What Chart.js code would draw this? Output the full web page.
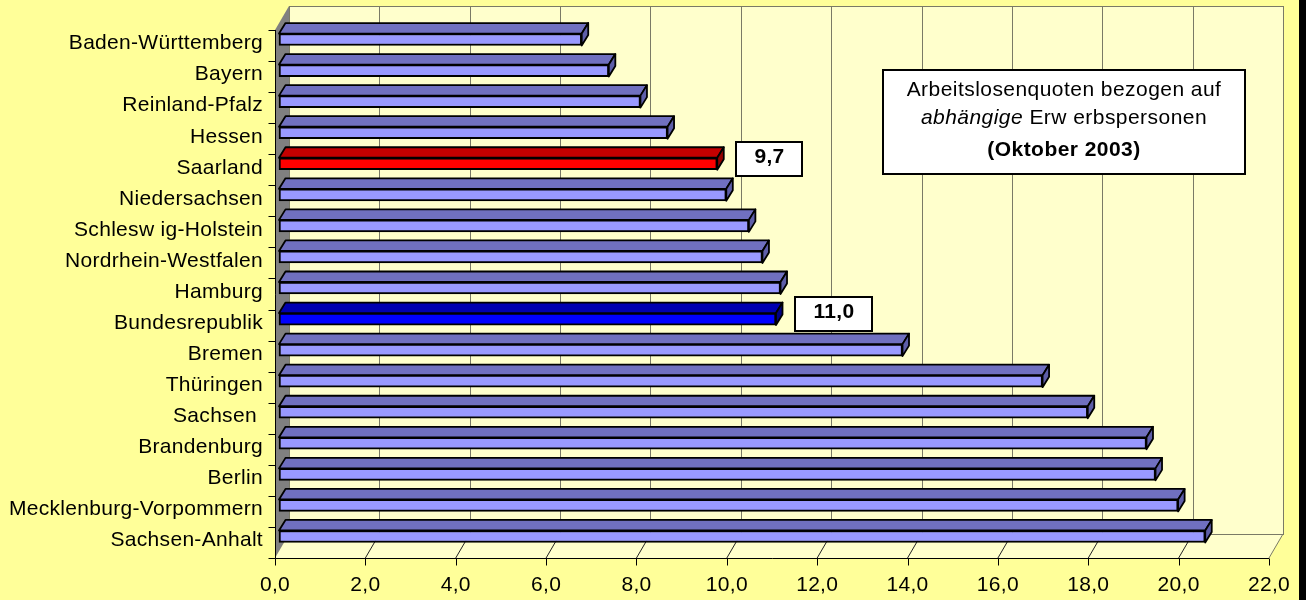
<!DOCTYPE html>
<html>
<head>
<meta charset="utf-8">
<title>Arbeitslosenquoten Oktober 2003</title>
<script src="https://cdn.jsdelivr.net/npm/chart.js@4.4.0/dist/chart.umd.min.js"></script>
<style>
  html, body { margin: 0; padding: 0; background: #FFFF99; overflow: hidden; }
  #wrap { position: relative; width: 1306px; height: 600px; }
</style>
</head>
<body>
<div id="wrap"><canvas id="chart" width="1306" height="600"></canvas></div>
<script>
// Bundesländer, top to bottom
const categories = [
  'Baden-Württemberg', 'Bayern', 'Reinland-Pfalz', 'Hessen', 'Saarland',
  'Niedersachsen', 'Schlesw ig-Holstein', 'Nordrhein-Westfalen', 'Hamburg',
  'Bundesrepublik', 'Bremen', 'Thüringen', 'Sachsen ', 'Brandenburg',
  'Berlin', 'Mecklenburg-Vorpommern', 'Sachsen-Anhalt'
];
// Arbeitslosenquote in %
const quoten = [6.7, 7.3, 8.0, 8.6, 9.7, 9.9, 10.4, 10.7, 11.1, 11.0, 13.8, 16.9, 17.9, 19.2, 19.4, 19.9, 20.5];
// bars that get a value box
const labelledBars = ['Saarland', 'Bundesrepublik'];
// x-axis ticks
const xTickValues = [0, 2, 4, 6, 8, 10, 12, 14, 16, 18, 20, 22];
// info box text
const titleLine1 = 'Arbeitslosenquoten bezogen auf';
const titleLine2Italic = 'abhängige';
const titleLine2Rest = ' Erw erbspersonen';
const titleLine3 = '(Oktober 2003)';

const FONT = '"Liberation Sans", Arial, sans-serif';
const SPACING = '0.3px';
const FONT_SIZE = 21;

const faceColours = {
  normal:         { front: '#9999FF', top: '#7070C0', side: '#5E5EA8' },
  Saarland:       { front: '#FF0000', top: '#C40000', side: '#960000' },
  Bundesrepublik: { front: '#0000FF', top: '#0000B0', side: '#000084' }
};
const coloursFor = name => faceColours[name] || faceColours.normal;

// 3D geometry (pixels)
const WALL = { dx: 14, dy: -24 };      // depth of the plot box
const BAR_SHIFT = { dx: 4, dy: -6 };   // front face of bars sits a bit into the box
const BAR_DEPTH = { dx: 6.5, dy: -10.5 };

const fmt = v => v.toFixed(1).replace('.', ',');

function poly(ctx, pts) {
  ctx.beginPath();
  ctx.moveTo(pts[0][0], pts[0][1]);
  for (let i = 1; i < pts.length; i++) ctx.lineTo(pts[i][0], pts[i][1]);
  ctx.closePath();
}

const scene3d = {
  id: 'scene3d',
  beforeUpdate(chart) { chart.ctx.letterSpacing = SPACING; },
  beforeDraw(chart) {
    const { ctx, chartArea: a, scales: { x } } = chart;
    ctx.letterSpacing = SPACING;
    ctx.save();
    ctx.fillStyle = '#FFFF99';
    ctx.fillRect(0, 0, chart.width, chart.height);
    ctx.fillStyle = '#000000';
    ctx.fillRect(1299, 0, chart.width - 1299, chart.height);

    const bl = a.left + WALL.dx, br = a.right + WALL.dx;
    const bt = a.top + WALL.dy, bb = a.bottom + WALL.dy;

    // back wall
    ctx.fillStyle = '#FFFFCC';
    ctx.fillRect(bl, bt, br - bl, bb - bt);
    // floor
    poly(ctx, [[a.left, a.bottom], [bl, bb], [br, bb], [a.right, a.bottom]]);
    ctx.fill();

    // vertical gridlines on the back wall
    ctx.strokeStyle = '#7A7A66';
    ctx.lineWidth = 1;
    xTickValues.forEach(v => {
      const px = Math.round(x.getPixelForValue(v) + WALL.dx) + 0.5;
      ctx.beginPath(); ctx.moveTo(px, bt); ctx.lineTo(px, bb); ctx.stroke();
    });
    ctx.strokeRect(Math.round(bl) + 0.5, Math.round(bt) + 0.5, br - bl, bb - bt);
    // right edge of floor
    ctx.beginPath(); ctx.moveTo(a.right, a.bottom); ctx.lineTo(br, bb); ctx.stroke();

    // floor grid diagonals
    ctx.strokeStyle = '#222222';
    xTickValues.slice(1, -1).forEach(v => {
      const px = x.getPixelForValue(v);
      ctx.beginPath(); ctx.moveTo(px, a.bottom); ctx.lineTo(px + WALL.dx, a.bottom + WALL.dy); ctx.stroke();
    });

    // left side wall
    ctx.fillStyle = '#808080';
    poly(ctx, [[a.left, a.top], [bl, bt], [bl, bb], [a.left, a.bottom]]);
    ctx.fill();

    // front axes
    ctx.strokeStyle = '#000000';
    ctx.lineWidth = 1;
    const ax = Math.round(a.left) + 0.5, ay = Math.round(a.bottom) + 0.5;
    ctx.beginPath();
    ctx.moveTo(ax, a.top); ctx.lineTo(ax, ay); ctx.lineTo(a.right, ay);
    ctx.stroke();
    xTickValues.forEach(v => {
      const px = Math.round(x.getPixelForValue(v)) + 0.5;
      ctx.beginPath(); ctx.moveTo(px, ay); ctx.lineTo(px, ay + 7); ctx.stroke();
    });
    const band = (a.bottom - a.top) / categories.length;
    for (let k = 0; k <= categories.length; k++) {
      const py = Math.round(a.top + k * band) + 0.5;
      ctx.beginPath(); ctx.moveTo(ax - 7, py); ctx.lineTo(ax, py); ctx.stroke();
    }
    ctx.restore();
  },
  beforeDatasetsDraw(chart) {
    chart.ctx.save();
    chart.ctx.translate(BAR_SHIFT.dx, BAR_SHIFT.dy);
  },
  afterDatasetsDraw(chart) {
    const { ctx } = chart;
    const meta = chart.getDatasetMeta(0);
    ctx.lineWidth = 1.8;
    ctx.lineJoin = 'round';
    ctx.strokeStyle = '#000000';
    meta.data.forEach((bar, i) => {
      const { x: xe, y: yc, base, height } = bar.getProps(['x', 'y', 'base', 'height'], true);
      const top = yc - height / 2, bottom = yc + height / 2;
      const c = coloursFor(categories[i]);
      // top face
      poly(ctx, [[base, top], [base + BAR_DEPTH.dx, top + BAR_DEPTH.dy],
                 [xe + BAR_DEPTH.dx, top + BAR_DEPTH.dy], [xe, top]]);
      ctx.fillStyle = c.top; ctx.fill(); ctx.stroke();
      // end face
      poly(ctx, [[xe, top], [xe + BAR_DEPTH.dx, top + BAR_DEPTH.dy],
                 [xe + BAR_DEPTH.dx, bottom + BAR_DEPTH.dy], [xe, bottom]]);
      ctx.fillStyle = c.side; ctx.fill(); ctx.stroke();
    });
    ctx.restore();

    // value boxes
    ctx.save();
    ctx.letterSpacing = SPACING;
    ctx.font = 'bold ' + FONT_SIZE + 'px ' + FONT;
    meta.data.forEach((bar, i) => {
      if (!labelledBars.includes(categories[i])) return;
      const { x: xe, y: yc } = bar.getProps(['x', 'y'], true);
      const text = fmt(quoten[i]);
      const w = Math.round(ctx.measureText(text).width + 36), h = 34;
      const left = Math.round(xe + BAR_SHIFT.dx + 19);
      const cy = yc + BAR_SHIFT.dy - 5;
      const topY = Math.round(cy - h / 2);
      ctx.fillStyle = '#FFFFFF';
      ctx.fillRect(left, topY, w, h);
      ctx.lineWidth = 2;
      ctx.strokeStyle = '#000000';
      ctx.strokeRect(left, topY, w, h);
      ctx.fillStyle = '#000000';
      ctx.textAlign = 'center';
      ctx.textBaseline = 'middle';
      ctx.fillText(text, left + w / 2 + 0.5, cy - 2);
    });
    ctx.restore();

    // info box
    ctx.save();
    ctx.letterSpacing = '0.45px';
    const bx = 883, by = 70, bw = 362, bh = 104;
    ctx.fillStyle = '#FFFFFF';
    ctx.fillRect(bx, by, bw, bh);
    ctx.lineWidth = 2;
    ctx.strokeStyle = '#000000';
    ctx.strokeRect(bx, by, bw, bh);
    const cx = bx + bw / 2;
    const f = FONT_SIZE + 'px ' + FONT;
    ctx.fillStyle = '#000000';
    ctx.textBaseline = 'alphabetic';
    ctx.textAlign = 'left';
    ctx.font = f;
    const w1 = ctx.measureText(titleLine1).width;
    ctx.fillText(titleLine1, cx - w1 / 2, 96);
    ctx.font = 'italic ' + f;
    const wi = ctx.measureText(titleLine2Italic).width;
    ctx.font = f;
    const wr = ctx.measureText(titleLine2Rest).width;
    const start2 = cx - (wi + wr) / 2;
    ctx.font = 'italic ' + f;
    ctx.fillText(titleLine2Italic, start2, 124);
    ctx.font = f;
    ctx.fillText(titleLine2Rest, start2 + wi, 124);
    ctx.font = 'bold ' + f;
    const w3 = ctx.measureText(titleLine3).width;
    ctx.fillText(titleLine3, cx - w3 / 2, 156);
    ctx.restore();
  }
};

Chart.defaults.color = '#000000';
Chart.defaults.font.family = FONT;
Chart.defaults.font.size = FONT_SIZE;

new Chart(document.getElementById('chart'), {
  type: 'bar',
  data: {
    labels: categories,
    datasets: [{
      data: quoten,
      backgroundColor: categories.map(n => coloursFor(n).front),
      borderColor: '#000000',
      borderWidth: 2,
      borderSkipped: false,
      barThickness: 12,
      clip: false
    }]
  },
  options: {
    indexAxis: 'y',
    responsive: false,
    animation: false,
    devicePixelRatio: 1,
    layout: { padding: { top: 30, right: 37, bottom: 0, left: 0 } },
    plugins: { legend: { display: false }, tooltip: { enabled: false } },
    scales: {
      x: {
        type: 'linear',
        min: 0,
        max: 22,
        afterBuildTicks: s => { s.ticks = xTickValues.map(v => ({ value: v })); },
        afterFit: s => { s.height = 42; },
        grid: { display: false, drawTicks: false },
        border: { display: false },
        ticks: {
          padding: 15,
          autoSkip: false,
          maxRotation: 0,
          callback: v => fmt(v),
          font: { size: FONT_SIZE }
        }
      },
      y: {
        afterFit: s => { s.width = 275; },
        grid: { display: false, drawTicks: false },
        border: { display: false },
        ticks: { padding: 12, labelOffset: -2, autoSkip: false, font: { size: FONT_SIZE } }
      }
    }
  },
  plugins: [scene3d]
});
</script>
</body>
</html>
